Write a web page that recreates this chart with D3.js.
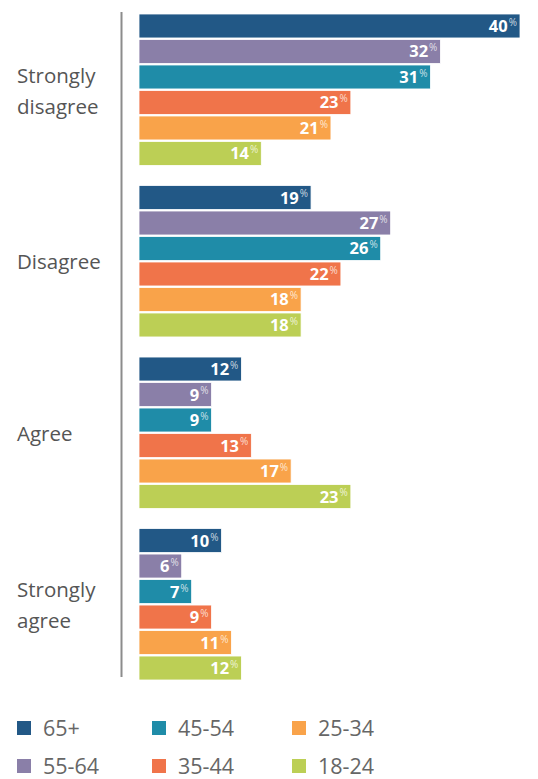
<!DOCTYPE html>
<html>
<head>
<meta charset="utf-8">
<script src="https://cdn.jsdelivr.net/npm/d3@7"></script>
<style>
  body { margin: 0; background: #fff; }
  svg { display: block; font-family: "Open Sans", "Noto Sans", sans-serif; }
</style>
</head>
<body>
<svg id="chart"></svg>
<script>
// Answer categories (one group of bars each)
const categories = ["Strongly disagree", "Disagree", "Agree", "Strongly agree"];
// Age bands, top to bottom inside each group
const ageGroups = ["65+", "55-64", "45-54", "35-44", "25-34", "18-24"];
const colors = ["#225886", "#8a7fa8", "#1f8ca8", "#f0744a", "#f9a34a", "#bccf55"];

// Percent values per age band, in category order
const v65plus = [40, 19, 12, 10];
const v55_64 = [32, 27, 9, 6];
const v45_54 = [31, 26, 9, 7];
const v35_44 = [23, 22, 13, 9];
const v25_34 = [21, 18, 17, 11];
const v18_24 = [14, 18, 23, 12];

const seriesValues = [v65plus, v55_64, v45_54, v35_44, v25_34, v18_24];

const width = 538, height = 779;
const svg = d3.select("#chart").attr("width", width).attr("height", height);

// Flatten into rows for drawing
const rows = [];
categories.forEach((c, ci) => {
    ageGroups.forEach((a, ai) => {
        rows.push({ cat: c, age: a, value: seriesValues[ai][ci], color: colors[ai] });
    });
});

const y0 = d3.scaleBand().domain(categories).range([14, 680]).paddingInner(0.117);
const y1 = d3.scaleBand().domain(ageGroups).range([0, y0.bandwidth()]).paddingInner(0.06);
const x = d3.scaleLinear().domain([0, 40]).range([122, 520]);
const barStart = 139;

// axis line
svg.append("line")
    .attr("x1", 121.5).attr("x2", 121.5)
    .attr("y1", 12).attr("y2", 677)
    .attr("stroke", "#8c8c8c")
    .attr("stroke-width", 2);

// bars
const bar = svg.append("g").selectAll("g")
    .data(rows)
    .join("g")
    .attr("transform", d => `translate(0,${y0(d.cat) + y1(d.age)})`);

bar.append("rect")
    .attr("x", barStart)
    .attr("width", d => x(d.value) - barStart)
    .attr("height", y1.bandwidth())
    .attr("fill", d => d.color)
    .attr("stroke", "#fff")
    .attr("stroke-width", 0.8);

const lbl = bar.append("text")
    .attr("x", d => x(d.value) - 3)
    .attr("y", y1.bandwidth() / 2 + 6)
    .attr("text-anchor", "end")
    .attr("fill", "#fff")
    .attr("font-weight", 700)
    .attr("font-size", 16.5);
lbl.append("tspan").text(d => d.value);
lbl.append("tspan")
    .text("%")
    .attr("font-size", 10)
    .attr("font-weight", 400)
    .attr("fill-opacity", 0.75)
    .attr("dx", 1)
    .attr("dy", -6);

// category labels
const catLines = {
    "Strongly disagree": ["Strongly", "disagree"],
    "Disagree": ["Disagree"],
    "Agree": ["Agree"],
    "Strongly agree": ["Strongly", "agree"]
};
svg.append("g").selectAll("text")
    .data(categories)
    .join("text")
    .attr("x", 17)
    .attr("y", d => y0(d) + y0.bandwidth() / 2 + 8 - (catLines[d].length - 1) * 15)
    .attr("fill", "#555")
    .attr("font-size", 20.5)
    .selectAll("tspan")
    .data(d => catLines[d])
    .join("tspan")
    .attr("x", 17)
    .attr("dy", (d, i) => i === 0 ? 0 : 31)
    .text(d => d);

// legend
const legendCols = [17, 152, 292];
const legendRows = [728, 766];
const legend = svg.append("g").selectAll("g")
    .data(ageGroups)
    .join("g")
    .attr("transform", (d, i) => `translate(${legendCols[Math.floor(i / 2)]},${legendRows[i % 2]})`);
legend.append("rect")
    .attr("y", -7).attr("width", 14).attr("height", 14)
    .attr("fill", (d, i) => colors[i]);
legend.append("text")
    .attr("x", 26).attr("y", 8)
    .attr("fill", "#666")
    .attr("font-size", 21.5)
    .text(d => d);
</script>
</body>
</html>
